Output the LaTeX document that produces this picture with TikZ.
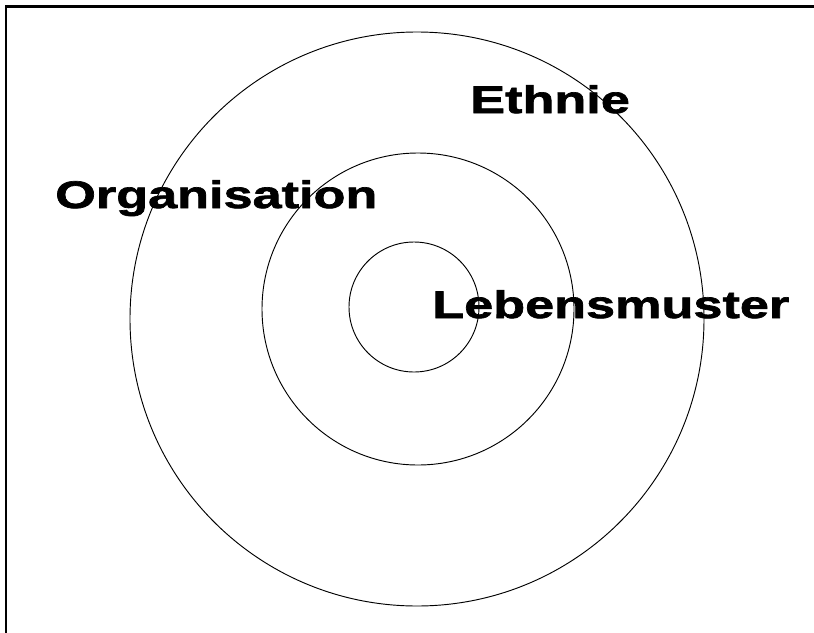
\documentclass[tikz,border=0pt]{standalone}
\usepackage{fontspec}
\newfontfamily\heavyfont[FakeStretch=1.36,FakeBold=1.8]{Liberation Sans}
\tikzset{
    ring/.style={draw, line width=0.7pt},
    wort/.style={font=\heavyfont\bfseries\fontsize{28.8}{30}\selectfont, inner sep=0pt, anchor=base west},
  }
\begin{document}
\begin{tikzpicture}[x=0.75pt,y=-0.75pt]
				  %frame: only top and left edge visible
				  \useasboundingbox (0,0) rectangle (814,632);
				  \clip (0,0) rectangle (814,632);
				  \draw[line width=1.6pt] (6,6.5) rectangle (840,660);
				  %rings
				  \coordinate (Ma) at (417,319);
				  \coordinate (Mb) at (418,309);
				  \coordinate (Mc) at (414,307);
				  \draw[ring] (Ma) circle[radius=287];
				  \draw[ring] (Mb) circle[radius=156];
				  \draw[ring] (Mc) circle[radius=65];
				  %labels
				  \node[wort] (ethnie) at (470,113) {Ethnie};
				  \node[wort] (orga) at (55,208) {Organisation};
				  \node[wort] (leben) at (432,318) {Lebensmuster};
				  \end{tikzpicture}
\end{document}
